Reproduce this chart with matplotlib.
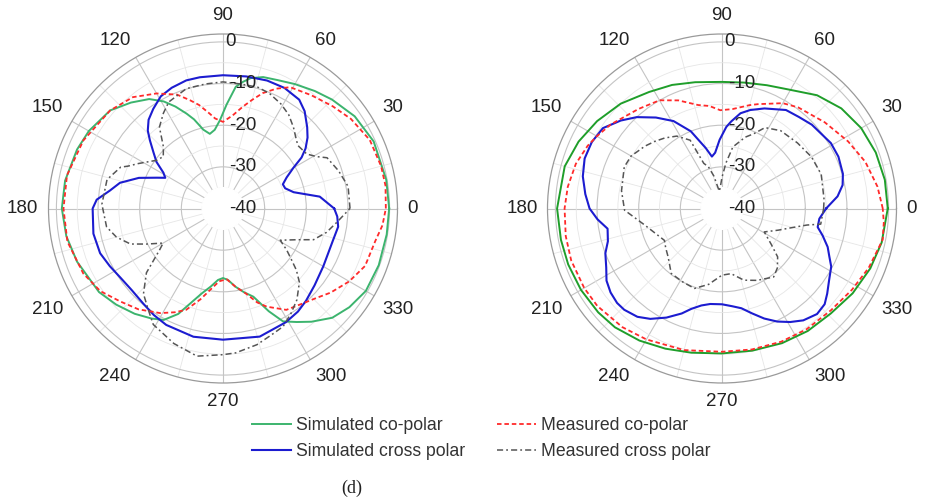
import numpy as np
import matplotlib
matplotlib.use("Agg")
import matplotlib.pyplot as plt
from matplotlib.patches import Circle
from matplotlib.transforms import offset_copy

plt.rcParams['font.family'] = ['Liberation Sans', 'DejaVu Sans']

# ---- data (angle in degrees, gain in dB), left pattern ----
l_sim_co_ang = [0, 10, 24, 35, 45, 52, 60, 67, 73, 78, 81, 84, 88, 92, 96, 100, 104, 108, 111, 115, 119,
                124, 131, 139, 150, 158, 170, 180, 190, 200, 214, 222, 230, 237, 242, 247, 251, 256, 261,
                266, 270, 274, 279, 284, 289, 294, 298, 303, 308, 315, 322, 330, 340, 351, 360]
l_sim_co_db = [-0.1, -0.2, -0.4, -1.4, -3.0, -4.2, -5.5, -6.5, -7.0, -8.0, -9.2, -10.6, -15.0, -18.8, -21.0,
               -21.8, -20.5, -17.5, -15.6, -13.0, -10.6, -8.3, -6.3, -4.1, -2.8, -2.2, -1.5, -1.3, -1.8,
               -2.7, -4.1, -5.5, -7.0, -8.5, -9.7, -12.5, -15.9, -19.0, -21.0, -22.8, -23.3, -22.8, -21.0,
               -19.3, -17.6, -13.0, -9.3, -7.5, -5.5, -2.9, -1.5, -0.4, -0.2, -0.2, -0.1]

l_sim_x_ang = [0, 7, 13, 18, 22, 26, 30, 33, 36, 40, 44, 50, 55, 63, 71, 80, 90, 100, 106, 113, 119, 125,
               130, 134, 137, 141, 145, 149, 152, 155, 160, 166, 171, 176, 180, 191, 200, 207, 214, 222,
               230, 237, 244, 257, 270, 286, 299, 306, 312, 320, 330, 344, 351, 356, 360]
l_sim_x_db = [-13.3, -16.6, -22.6, -24.3, -24.5, -23.0, -20.5, -17.5, -15.5, -13.5, -11.9, -9.5, -8.1, -7.5,
              -7.5, -7.8, -8.0, -8.0, -8.0, -8.5, -9.2, -10.8, -12.2, -14.0, -16.0, -18.5, -20.5, -23.3,
              -24.3, -22.5, -18.5, -14.5, -12.5, -9.6, -8.7, -8.3, -8.6, -9.5, -10.3, -10.6, -10.2, -9.5,
              -8.9, -8.4, -8.5, -8.0, -8.8, -9.4, -10.2, -11.3, -12.2, -12.5, -12.0, -12.5, -13.3]

l_meas_co_ang = [0, 8, 15, 25, 35, 43, 52, 61, 66, 71, 75, 79, 84, 90, 95, 98, 103, 107, 112, 120, 129, 139,
                 154, 168, 180, 192, 205, 214, 222, 230, 239, 245, 250, 256, 261, 267, 273, 279, 285, 290,
                 294, 302, 309, 316, 322, 330, 338, 348, 354, 360]
l_meas_co_db = [-0.9, -0.6, -0.7, -1.1, -2.5, -4.0, -5.5, -6.7, -8.5, -10.7, -13.0, -15.1, -17.5, -19.2,
                -18.3, -17.0, -14.5, -12.8, -10.5, -8.1, -5.6, -4.1, -2.7, -1.7, -1.7, -1.8, -3.0, -4.5,
                -6.7, -8.4, -10.7, -12.5, -14.1, -17.5, -20.2, -22.5, -23.0, -21.0, -18.9, -16.0, -14.2,
                -11.3, -10.4, -9.0, -7.2, -5.0, -3.2, -2.6, -1.5, -0.9]

l_meas_x_ang = [0, 10, 18, 26, 29, 33, 40, 43, 49, 55, 61, 68, 74, 82, 90, 98, 107, 117, 122, 128, 134, 139,
                144, 152, 156, 158, 166, 178, 189, 195, 201, 205, 210, 213, 220, 227, 233, 239, 250, 260,
                270, 275, 284, 291, 297, 303, 309, 316, 320, 324, 327, 331, 337, 341, 347, 353, 360]
l_meas_x_db = [-9.5, -9.5, -10.8, -12.2, -14.3, -16.0, -16.5, -15.9, -14.2, -12.5, -11.3, -10.2, -9.7, -9.8,
               -9.6, -9.8, -9.9, -11.3, -13.0, -15.2, -19.4, -21.0, -20.3, -17.0, -15.0, -13.5, -11.3,
               -10.9, -11.7, -13.5, -16.2, -19.8, -23.4, -21.9, -16.0, -12.0, -10.0, -7.5, -5.5, -4.0,
               -4.9, -5.2, -6.3, -7.5, -8.2, -10.0, -11.8, -14.5, -17.0, -20.0, -21.8, -24.3, -20.8,
               -17.0, -14.5, -12.5, -9.5]

# ---- right pattern ----
r_sim_co_ang = [0, 10, 20, 30, 40, 50, 61, 70, 80, 90, 102, 112, 122, 134, 145, 155, 165, 180, 191, 200,
                210, 220, 228, 238, 248, 258, 270, 282, 294, 305, 316, 327, 338, 348, 360]
r_sim_co_db = [-0.2, -0.3, -0.7, -1.4, -2.6, -4.5, -7.3, -8.5, -9.3, -9.6, -9.0, -8.0, -7.0, -5.0, -3.4,
               -2.0, -0.9, -0.4, -0.6, -0.7, -0.9, -1.2, -1.6, -2.6, -3.7, -4.6, -5.2, -5.1, -4.6, -4.1,
               -3.7, -2.6, -1.6, -0.8, -0.2]

r_sim_x_ang = [0, 6, 11, 16, 24, 31, 43, 50, 57, 67, 74, 79, 84, 87, 92, 97, 101, 105, 112, 119, 126, 133,
               139, 146, 153, 160, 167, 174, 180, 185, 190, 196, 201, 207, 212, 217, 222, 226, 232, 237,
               243, 249, 253, 258, 263, 270, 276, 281, 286, 291, 296, 301, 306, 312, 317, 321, 326, 332,
               336, 340, 345, 349, 354, 360]
r_sim_x_db = [-15.0, -12.1, -10.5, -9.8, -9.4, -9.5, -10.5, -11.3, -11.8, -13.9, -15.4, -16.7, -19.0, -20.4,
              -23.5, -26.5, -27.3, -25.0, -20.0, -16.0, -13.0, -10.0, -7.8, -5.5, -4.9, -4.9, -5.7, -7.0,
              -8.2, -10.0, -12.1, -11.5, -10.0, -8.8, -7.3, -6.5, -6.1, -6.2, -7.0, -8.4, -10.6, -13.0,
              -14.8, -16.2, -16.9, -17.0, -16.4, -15.6, -13.8, -11.7, -9.8, -8.2, -6.8, -5.9, -6.3, -7.5,
              -9.0, -10.3, -11.8, -13.0, -15.0, -16.6, -16.5, -15.0]

r_meas_co_ang = [0, 8, 18, 28, 40, 53, 60, 71, 75, 84, 91, 97, 103, 112, 120, 130, 143, 150, 155, 163, 172,
                 180, 190, 199, 210, 218, 230, 240, 255, 270, 282, 294, 305, 317, 328, 338, 349, 355, 360]
r_meas_co_db = [-1.4, -2.3, -3.8, -5.7, -7.8, -9.6, -10.8, -13.5, -14.3, -16.0, -16.4, -15.2, -14.5, -12.0,
                -10.0, -8.8, -6.5, -5.3, -4.4, -3.3, -2.6, -2.2, -1.9, -1.7, -1.8, -2.0, -2.8, -3.7, -4.8,
                -5.6, -5.4, -5.0, -4.6, -4.2, -3.2, -2.0, -0.7, -1.0, -1.4]

r_meas_x_ang = [0, 5, 19, 30, 41, 53, 62, 67, 72, 80, 85, 90, 95, 99, 104, 108, 112, 115, 122, 129, 135,
                141, 150, 157, 170, 181, 192, 209, 215, 222, 232, 242, 251, 260, 270, 278, 287, 296, 307,
                313, 319, 324, 331, 339, 345, 349, 351, 360]
r_meas_x_db = [-15.6, -15.4, -14.8, -15.2, -16.0, -16.6, -18.0, -20.5, -22.0, -25.0, -29.0, -32.5, -35.0,
               -35.8, -32.0, -29.5, -28.3, -21.9, -19.5, -18.2, -17.2, -16.2, -14.8, -14.5, -15.5, -16.6,
               -21.0, -24.2, -23.5, -22.6, -20.2, -20.0, -19.7, -21.5, -24.0, -24.2, -22.0, -20.8, -19.4,
               -20.5, -22.3, -25.4, -28.4, -25.5, -22.4, -19.2, -16.0, -15.6]

labels = ['Simulated co-polar', 'Simulated cross polar', 'Measured co-polar', 'Measured cross polar']
angle_ticks = list(range(0, 360, 30))
r_ticks = [0, -10, -20, -30, -40]

RMIN, RMAX = -40, 1.9
W, H = 928, 500
R = 174.5  # axes radius in pixels

fig = plt.figure(figsize=(W / 100, H / 100), dpi=100)


def make_polar(cx, cy):
    ax = fig.add_axes([(cx - R) / W, (H - cy - R) / H, 2 * R / W, 2 * R / H], projection='polar')
    ax.set_ylim(RMIN, RMAX)
    ax.set_xticks(np.deg2rad(np.arange(0, 360, 30)))
    ax.set_xticks(np.deg2rad(np.arange(15, 360, 30)), minor=True)
    ax.set_yticks([-30, -20, -10, 0])
    ax.set_yticks([-35, -25, -15, -5], minor=True)
    ax.set_xticklabels([])
    ax.set_yticklabels([])
    ax.tick_params(which='both', length=0)
    ax.grid(which='major', color='#c4c4c4', lw=0.8)
    ax.grid(which='minor', color='#e6e6e6', lw=0.6)
    ax.spines['polar'].set_color('#9a9a9a')
    ax.spines['polar'].set_linewidth(0.9)
    # white hole in the middle, grid does not reach the centre
    ax.add_patch(Circle((0.5, 0.5), 0.5 * 5 / (RMAX - RMIN), transform=ax.transAxes,
                        color='white', zorder=1.8))
    # angle labels outside the ring
    for a in angle_ticks:
        t = np.deg2rad(a)
        c, s = np.cos(t), np.sin(t)
        ha = 'left' if c > 0.1 else ('right' if c < -0.1 else 'center')
        va = 'bottom' if s > 0.1 else ('top' if s < -0.1 else 'center')
        d = (R + 10) / (2 * R)
        ax.text(0.5 + d * c, 0.5 + d * s, str(a), transform=ax.transAxes, ha=ha, va=va,
                fontsize=13.5, color='#222222', clip_on=False)
    # dB labels along the 90 deg spoke
    for v in r_ticks:
        dx = 2 if v == 0 else 6
        tr = offset_copy(ax.transData, fig=fig, x=dx, y=0, units='dots')
        ax.text(np.pi / 2, v, str(v), transform=tr, ha='left', va='center',
                fontsize=13.5, color='#222222', zorder=5)
    return ax


def draw(ax, ang, db, **kw):
    return ax.plot(np.deg2rad(ang), db, zorder=3, **kw)[0]


ax1 = make_polar(223, 208.5)
ax2 = make_polar(722, 208.5)

h1 = draw(ax1, l_sim_co_ang, l_sim_co_db, color='#3cb46e', lw=1.4)
h2 = draw(ax1, l_sim_x_ang, l_sim_x_db, color='#1c1cd0', lw=1.5)
h3 = draw(ax1, l_meas_co_ang, l_meas_co_db, color='#ff2a2a', lw=1.3, dashes=(2.5, 1.6))
h4 = draw(ax1, l_meas_x_ang, l_meas_x_db, color='#555555', lw=1.1, dashes=(4, 2, 1.2, 2))

draw(ax2, r_sim_co_ang, r_sim_co_db, color='#1f9e2a', lw=1.4)
draw(ax2, r_sim_x_ang, r_sim_x_db, color='#1c1cd0', lw=1.5)
draw(ax2, r_meas_co_ang, r_meas_co_db, color='#ff2a2a', lw=1.3, dashes=(2.5, 1.6))
draw(ax2, r_meas_x_ang, r_meas_x_db, color='#555555', lw=1.1, dashes=(4, 2, 1.2, 2))

fig.legend([h1, h2, h3, h4], labels, ncol=2, loc='upper left', bbox_to_anchor=(252 / W, 1 - 417 / H),
           frameon=False, fontsize=12.7, handlelength=2.2, handletextpad=0.3, columnspacing=1.8,
           labelspacing=0.5, borderpad=0, borderaxespad=0, labelcolor='#333333')

fig.text(352 / W, 1 - 488 / H, '(d)', family='Liberation Serif', fontsize=13, ha='center', va='center',
         color='#222222')

fig.savefig('out.png', dpi=100)
